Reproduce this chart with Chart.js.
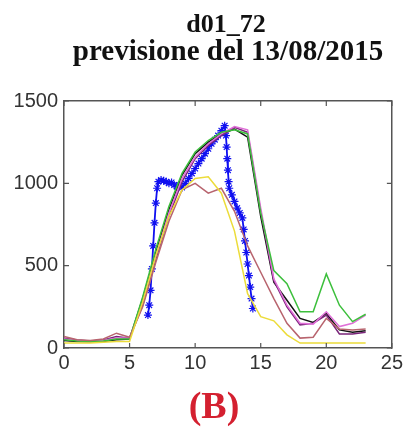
<!DOCTYPE html>
<html>
<head>
<meta charset="utf-8">
<script src="https://cdn.jsdelivr.net/npm/chart.js@4.4.1/dist/chart.umd.min.js"></script>
<style>
  body { margin: 0; background: #fff; }
  #wrap { position: relative; width: 406px; height: 434px; overflow: hidden; }
  .ttl { position: absolute; white-space: nowrap; transform: translateX(-50%);
         font-family: "Liberation Serif", "Times New Roman", serif; font-weight: bold; line-height: 1; color: #111; }
</style>
</head>
<body>
<div id="wrap">
  <canvas id="graph" width="406" height="434"></canvas>
  <div class="ttl" style="left:226px; top:11px; font-size:26px;">d01_72</div>
  <div class="ttl" style="left:228px; top:36px; font-size:29px;">previsione del 13/08/2015</div>
  <div class="ttl" style="left:214px; top:386px; font-size:38px; color:#d42030;">(B)</div>
</div>
<script>
// hourly forecasts
const hours = [0, 1, 2, 3, 4, 5, 6, 7, 8, 9, 10, 11, 12, 13, 14, 15, 16, 17, 18, 19, 20, 21, 22, 23];
const black_vals  = [45, 40, 38, 40, 50, 55, 300, 580, 840, 1050, 1180, 1250, 1300, 1330, 1280, 800, 400, 290, 180, 155, 210, 110, 95, 105];
const green_vals  = [50, 42, 40, 42, 55, 55, 310, 600, 860, 1060, 1190, 1260, 1310, 1325, 1300, 820, 470, 390, 220, 220, 450, 260, 160, 205];
const pink_vals   = [55, 45, 40, 45, 60, 60, 280, 560, 820, 1030, 1160, 1240, 1300, 1345, 1325, 850, 420, 260, 150, 145, 220, 130, 150, 200];
const purple_vals = [60, 48, 42, 48, 70, 60, 260, 540, 800, 1010, 1150, 1230, 1290, 1340, 1310, 830, 410, 250, 140, 150, 200, 85, 85, 95];
const rose_vals   = [70, 50, 45, 55, 90, 65, 250, 520, 770, 960, 1000, 940, 970, 830, 620, 460, 300, 150, 60, 65, 180, 115, 110, 115];
const yellow_vals = [30, 30, 30, 35, 40, 40, 280, 560, 800, 960, 1030, 1040, 940, 710, 330, 190, 165, 80, 30, 30, 30, 30, 30, 30];

// measured (blue stars)
const obs_x = [6.4, 6.5, 6.6, 6.7, 6.8, 6.9, 7.0, 7.1, 7.2, 7.4, 7.6, 7.8, 8.0, 8.2, 8.4, 8.6, 8.8, 9.0,
               9.25, 9.5, 9.75, 10.0, 10.25, 10.5, 10.75, 11.0, 11.25, 11.5, 11.75, 12.0, 12.25,
               12.35, 12.4, 12.45, 12.5, 12.55, 12.6, 12.8, 13.0, 13.2, 13.4, 13.6,
               13.7, 13.8, 13.9, 14.0, 14.1, 14.2, 14.3, 14.4];
const obs_y = [200, 260, 350, 480, 620, 760, 880, 970, 1010, 1020, 1015, 1010, 1000, 1005, 990, 980, 990, 975,
               1000, 1030, 1060, 1090, 1120, 1150, 1180, 1210, 1240, 1265, 1290, 1320, 1350,
               1290, 1220, 1150, 1080, 1010, 970, 930, 890, 850, 820, 790,
               720, 650, 580, 510, 440, 370, 300, 240];

const x_ticks = [0, 5, 10, 15, 20, 25];
const y_ticks = [0, 500, 1000, 1500];

function pts(xs, ys) {
    return xs.map((x, i) => ({x: x, y: ys[i]}));
}

function line(label, vals, color) {
    return {
        label: label,
        data: pts(hours, vals),
        borderColor: color,
        backgroundColor: color,
        borderWidth: 1.5,
        pointRadius: 0,
        tension: 0
    };
}

// MATLAB style ticks pointing inward, on all four sides
const inwardTicks = {
    id: 'inwardTicks',
    afterDatasetsDraw(chart) {
        const ctx = chart.ctx;
        const a = chart.chartArea;
        const xs = chart.scales.x, ys = chart.scales.y;
        ctx.save();
        ctx.strokeStyle = '#555';
        ctx.lineWidth = 1.2;
        ctx.beginPath();
        for (let v of x_ticks) {
            const px = xs.getPixelForValue(v);
            ctx.moveTo(px, a.bottom); ctx.lineTo(px, a.bottom - 5);
            ctx.moveTo(px, a.top); ctx.lineTo(px, a.top + 5);
        }
        for (let v of y_ticks) {
            const py = ys.getPixelForValue(v);
            ctx.moveTo(a.left, py); ctx.lineTo(a.left + 5, py);
            ctx.moveTo(a.right, py); ctx.lineTo(a.right - 5, py);
        }
        ctx.stroke();
        ctx.restore();
    }
};

const tick_font = {family: '"Liberation Sans", Arial, sans-serif', size: 20};

const cfg = {
    type: 'line',
    data: {
        datasets: [
            line('yellow', yellow_vals, '#ecdc3a'),
            line('rose', rose_vals, '#b8646e'),
            line('green', green_vals, '#3cbf3c'),
            line('pink', pink_vals, '#e070d8'),
            line('purple', purple_vals, '#7a247a'),
            line('black', black_vals, '#111111'),
            {
                label: 'osservato',
                data: pts(obs_x, obs_y),
                borderColor: '#1010f0',
                backgroundColor: '#1010f0',
                borderWidth: 1.8,
                pointStyle: 'star',
                pointRadius: 4,
                pointBorderWidth: 1.2,
                tension: 0
            }
        ]
    },
    options: {
        responsive: false,
        animation: false,
        layout: {padding: {left: 0, right: 10, top: 101, bottom: 56}},
        plugins: {legend: {display: false}, tooltip: {enabled: false}},
        scales: {
            x: {
                type: 'linear', position: 'bottom', min: 0, max: 25,
                afterBuildTicks: (s) => { s.ticks = x_ticks.map(v => ({value: v})); },
                afterFit: (s) => { s.height = 30; },
                grid: {display: false, drawTicks: false},
                border: {display: true, color: '#555', width: 1.5},
                ticks: {font: tick_font, color: '#333', padding: 3, maxRotation: 0,
                        callback: (v) => String(v)}
            },
            y: {
                type: 'linear', position: 'left', min: 0, max: 1500,
                afterBuildTicks: (s) => { s.ticks = y_ticks.map(v => ({value: v})); },
                afterFit: (s) => { s.width = 64; },
                grid: {display: false, drawTicks: false},
                border: {display: true, color: '#555', width: 1.5},
                ticks: {font: tick_font, color: '#333', padding: 6,
                        callback: (v) => String(v)}
            },
            x2: {
                type: 'linear', position: 'top', min: 0, max: 25,
                afterFit: (s) => { s.height = 0; },
                grid: {display: false, drawTicks: false},
                border: {display: true, color: '#555', width: 1.5},
                ticks: {display: false}
            },
            y2: {
                type: 'linear', position: 'right', min: 0, max: 1500,
                afterFit: (s) => { s.width = 0; },
                grid: {display: false, drawTicks: false},
                border: {display: true, color: '#555', width: 1.5},
                ticks: {display: false}
            }
        }
    },
    plugins: [inwardTicks]
};

const ctx = document.getElementById('graph').getContext('2d');
const my_chart = new Chart(ctx, cfg);
</script>
</body>
</html>
